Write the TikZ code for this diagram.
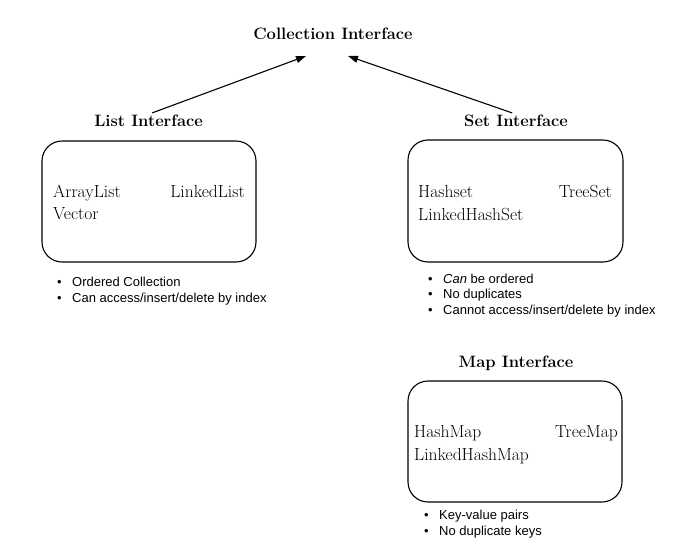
\documentclass[tikz,border=0pt]{standalone}
\usepackage{fontspec}
\newfontfamily\notefont{Liberation Sans}
\usetikzlibrary{arrows.meta}
\begin{document}
\begin{tikzpicture}[x=1pt,y=-1pt,
  title/.style={font=\fontsize{16.5}{19}\selectfont\bfseries, inner sep=0pt, anchor=base},
  item/.style={font=\fontsize{17.5}{20}\selectfont, inner sep=0pt},
  box/.style={draw, line width=1.1pt, rounded corners=20pt, inner sep=0pt},
  note/.style={font=\notefont\fontsize{13}{16}\selectfont, inner sep=0pt, anchor=base west},
  arr/.style={-{Triangle[length=10pt,width=7pt]}, line width=1.1pt, shorten <=4pt}]
\useasboundingbox (0,0) rectangle (686,552);

% titles
\node[title] (ct) at (333,39) {Collection Interface};
\node[title] (lt) at (148.5,126) {List Interface};
\node[title] (st) at (516,126) {Set Interface};
\node[title] (mt) at (516,367) {Map Interface};

% arrow end points
\coordinate (ctL) at (306,56);
\coordinate (ctR) at (348,56);
\draw[arr] (lt.north) -- (ctL);
\draw[arr] (st.north) -- (ctR);

% boxes
\node[box, minimum width=214pt, minimum height=121pt] (lb) at (149,201.5) {};
\node[box, minimum width=215pt, minimum height=122pt] (sb) at (515.5,201) {};
\node[box, minimum width=214pt, minimum height=121pt] (mb) at (515,441.5) {};

% list items
\node[item, anchor=base west] (al) at (53,197) {ArrayList};
\node[item, anchor=base east] (ll) at (245,197) {LinkedList};
\node[item, anchor=base west] (ve) at (53,219) {Vector};

% set items
\node[item, anchor=base west] (hs) at (418,197) {Hashset};
\node[item, anchor=base east] (ts) at (612,197) {TreeSet};
\node[item, anchor=base west] (lhs) at (418,220) {LinkedHashSet};

% map items
\node[item, anchor=base west] (hm) at (414,437) {HashMap};
\node[item, anchor=base east] (tm) at (618,437) {TreeMap};
\node[item, anchor=base west] (lhm) at (414,460) {LinkedHashMap};

% notes
\node[note] (ln1) at (57,286) {\makebox[15pt][l]{\textbullet}Ordered Collection};
\node[note] (ln2) at (57,302) {\makebox[15pt][l]{\textbullet}Can access/insert/delete by index};

\node[note] (sn1) at (428,283) {\makebox[15pt][l]{\textbullet}\textit{Can} be ordered};
\node[note] (sn2) at (428,298.5) {\makebox[15pt][l]{\textbullet}No duplicates};
\node[note] (sn3) at (428,314) {\makebox[15pt][l]{\textbullet}Cannot access/insert/delete by index};

\node[note] (mn1) at (424,519) {\makebox[15pt][l]{\textbullet}Key-value pairs};
\node[note] (mn2) at (424,535) {\makebox[15pt][l]{\textbullet}No duplicate keys};
\end{tikzpicture}
\end{document}
